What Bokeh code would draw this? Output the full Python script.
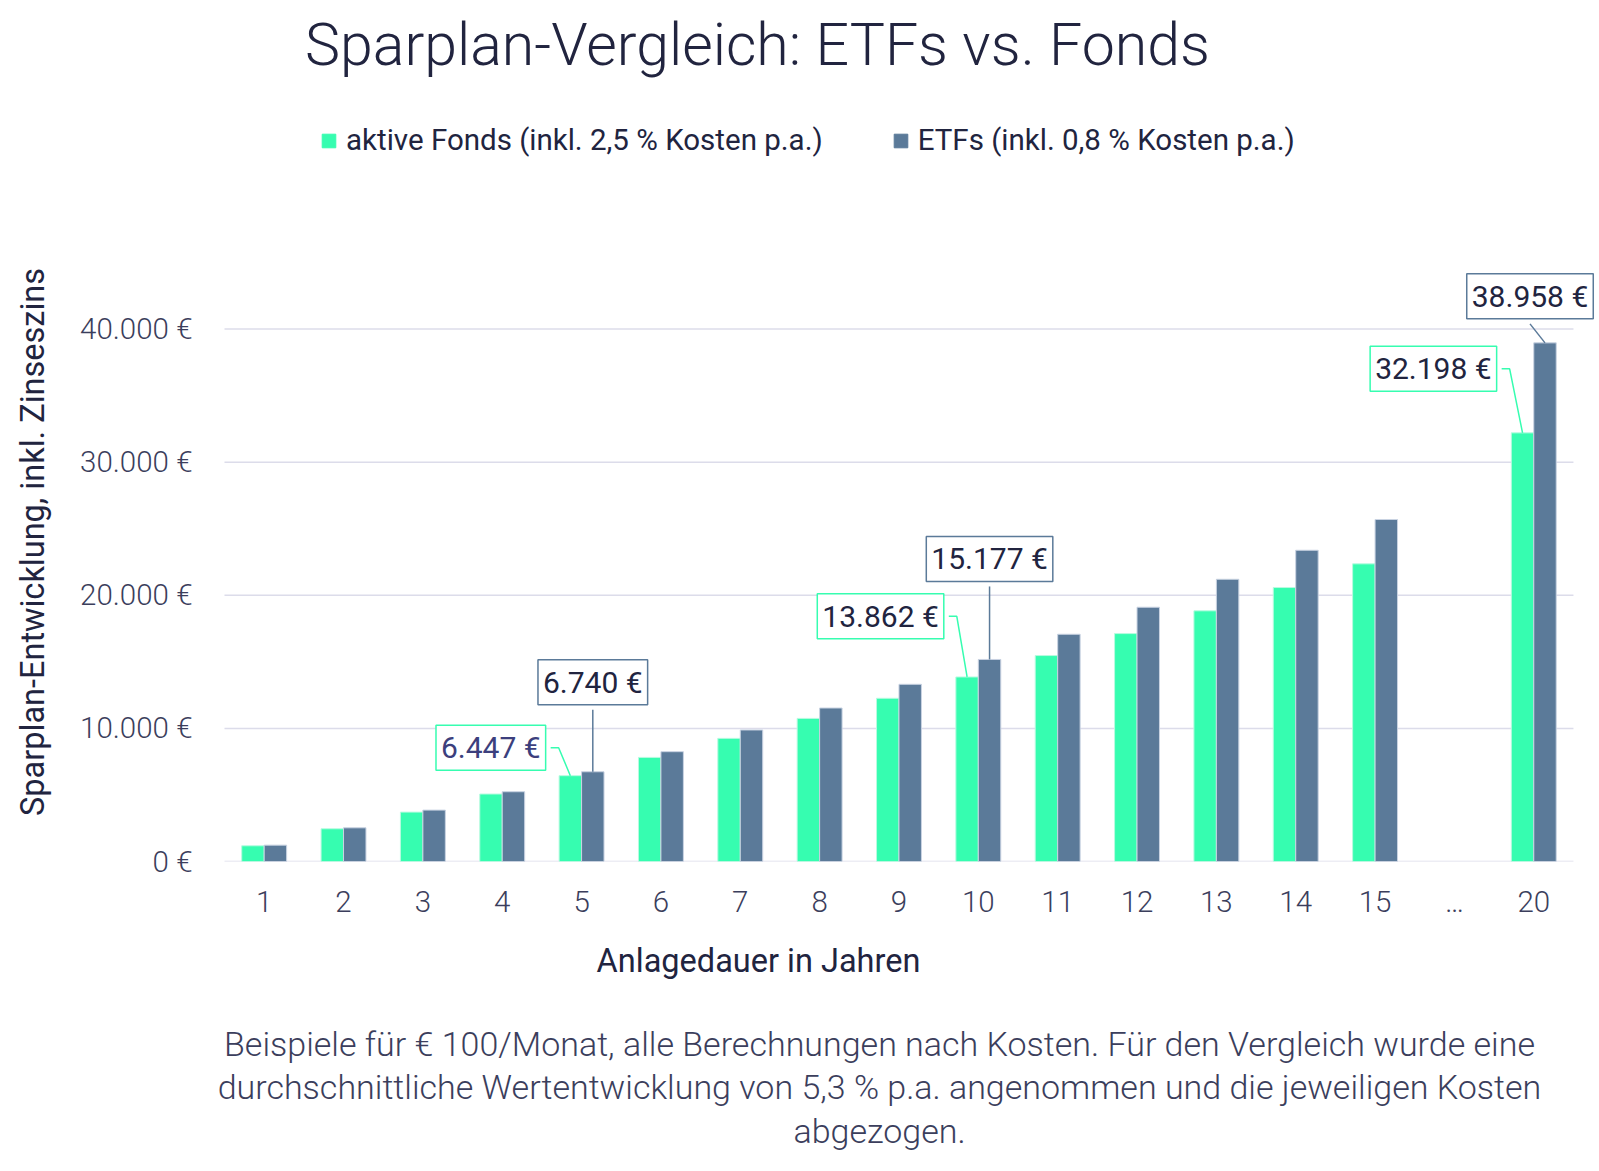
from bokeh.plotting import figure
from bokeh.layouts import column
from bokeh.models import ColumnDataSource, Range1d, FixedTicker, Label, Legend, LegendItem
from bokeh.transform import dodge
from bokeh.embed import file_html
from bokeh.resources import INLINE

# data
slots = list(range(1, 18))
year_labels = ["1", "2", "3", "4", "5", "6", "7", "8", "9", "10",
               "11", "12", "13", "14", "15", "…", "20"]
nan = float("nan")
fonds_values = [1180, 2460, 3710, 5070, 6447, 7820, 9250, 10750, 12260, 13862,
                15470, 17120, 18830, 20580, 22360, nan, 32198]
etf_values = [1230, 2530, 3860, 5240, 6740, 8250, 9880, 11530, 13310, 15177,
              17070, 19100, 21200, 23380, 25690, nan, 38958]
y_ticks = [0, 10000, 20000, 30000, 40000]

title_text = "Sparplan-Vergleich: ETFs vs. Fonds"
fonds_name = "aktive Fonds (inkl. 2,5 % Kosten p.a.)"
etf_name = "ETFs (inkl. 0,8 % Kosten p.a.)"
x_title = "Anlagedauer in Jahren"
y_title = "Sparplan-Entwicklung, inkl. Zinseszins"
note_lines = [
    "Beispiele für € 100/Monat, alle Berechnungen nach Kosten. Für den Vergleich wurde eine",
    "durchschnittliche Wertentwicklung von 5,3 % p.a. angenommen und die jeweiligen Kosten",
    "abgezogen.",
]
# bars that carry a value box (slot index)
fonds_callouts = [4, 9, 16]
etf_callouts = [4, 9, 16]

GREEN = "#36fdb0"
BLUE = "#5b7a99"
INK = "#21243f"
SOFT = "#3b3e5c"
LIGHT = "Roboto Light"
REG = "Roboto"


def euro(v):
    return f"{int(v):,}".replace(",", ".") + " €"


W, H = 1599, 1171
TOP_H = 222          # page y where the bar frame starts
FRAME_H = 639
MAIN_BOTTOM = 70
LEFT = 205           # frame edge (the first slot still starts at 224)
GRID_LEFT = 224
SLOT_PX = 79.35


def blank(height, y_top, y_bottom):
    # a figure without axes whose data space is the page's pixel grid
    f = figure(width=W, height=height, output_backend="svg", toolbar_location=None,
               title=None, x_range=Range1d(LEFT, W), y_range=Range1d(y_bottom, y_top),
               x_axis_type=None, y_axis_type=None, min_border=0, min_border_left=LEFT)
    f.grid.visible = False
    f.outline_line_color = None
    return f


# --- header: title + legend
head = blank(TOP_H, 0, TOP_H)
head.add_layout(Label(x=757, y=44, text=title_text, text_align="center",
                      text_baseline="middle", text_font=LIGHT, text_font_size="59px",
                      text_color=INK))
proxy = ColumnDataSource(dict(x=[nan], top=[nan]))
g1 = head.vbar(x="x", top="top", width=1, source=proxy, fill_color=GREEN, line_color=GREEN)
g2 = head.vbar(x="x", top="top", width=1, source=proxy, fill_color=BLUE, line_color=BLUE)
legend = Legend(items=[LegendItem(label=fonds_name, renderers=[g1]),
                       LegendItem(label=etf_name, renderers=[g2])],
                orientation="horizontal", location=(320 - LEFT, 65),
                border_line_color=None, background_fill_alpha=0, padding=0, margin=0,
                glyph_width=17, glyph_height=17, label_height=17, label_standoff=9,
                spacing=69, label_text_font=REG, label_text_font_size="29.5px",
                label_text_color=INK)
head.add_layout(legend)

# --- main bar chart
x_start = 0.5 - (GRID_LEFT - LEFT) / SLOT_PX
x_end = 0.5 + (W - GRID_LEFT) / SLOT_PX
p = figure(width=W, height=FRAME_H + MAIN_BOTTOM, output_backend="svg",
           toolbar_location=None, title=None,
           x_range=Range1d(x_start, x_end), y_range=Range1d(0, 48000),
           min_border_left=LEFT, min_border_right=0, min_border_top=0,
           min_border_bottom=MAIN_BOTTOM)
p.outline_line_color = None
p.grid.visible = False

px_x = 1 / SLOT_PX
px_y = 48000 / FRAME_H

# horizontal grid lines, limited to the category span
p.segment(x0=0.5, x1=len(slots) + 0.5, y0=y_ticks, y1=y_ticks,
          line_color="#dcdcea", line_width=1.5)

bar_w = 0.283
src = ColumnDataSource(dict(slot=slots, fonds=fonds_values, etf=etf_values))
p.vbar(x=dodge("slot", -bar_w / 2, range=p.x_range), top="fonds", width=bar_w,
       source=src, fill_color=GREEN, line_color="#b8fbe0", line_width=1)
p.vbar(x=dodge("slot", bar_w / 2, range=p.x_range), top="etf", width=bar_w,
       source=src, fill_color=BLUE, line_color="#c9d3e2", line_width=1)

p.xaxis.ticker = FixedTicker(ticks=slots)
p.xaxis.major_label_overrides = {s: t for s, t in zip(slots, year_labels)}
p.yaxis.ticker = FixedTicker(ticks=y_ticks)
p.yaxis.major_label_overrides = {t: euro(t) for t in y_ticks}
for ax in (p.xaxis[0], p.yaxis[0]):
    ax.axis_line_color = None
    ax.major_tick_line_color = None
    ax.minor_tick_line_color = None
    ax.major_tick_out = 0
    ax.minor_tick_out = 0
    ax.major_label_text_font = LIGHT
    ax.major_label_text_font_size = "29.5px"
    ax.major_label_text_color = SOFT
    ax.axis_label_text_font = REG
    ax.axis_label_text_font_size = "32.5px"
    ax.axis_label_text_font_style = "normal"
    ax.axis_label_text_color = INK
p.yaxis.axis_label = y_title
p.xaxis.major_label_standoff = 23
p.yaxis.major_label_standoff = 13
p.yaxis.axis_label_standoff = 25

# value boxes
PAD = 5
box_style = dict(text_font=REG, text_font_size="30px", background_fill_color="white",
                 border_line_width=1.5, padding=PAD)

# green: leader goes up-left to an elbow, then left into the box
green_leaders = {4: (-11.7, 28), 9: (-10.3, 60.6), 16: (-12.9, 64)}
for i in fonds_callouts:
    bx = slots[i] - bar_w / 2
    by = fonds_values[i]
    ex, ey = green_leaders[i]
    elbow_x = bx + ex * px_x
    elbow_y = by + ey * px_y
    end_x = elbow_x - 8 * px_x
    p.line([bx, elbow_x, end_x], [by, elbow_y, elbow_y], line_color=GREEN, line_width=1.5)
    color = "#3c3f7d" if i == 4 else INK
    p.add_layout(Label(x=end_x - PAD * px_x, y=elbow_y, text=euro(by), text_align="right",
                       text_baseline="middle", text_color=color, border_line_color=GREEN,
                       **box_style))

# blue: leader goes up (or up-left) to the bottom of the box
blue_leaders = {4: (0, 62), 9: (0, 73), 16: (-15, 19)}
for i in etf_callouts:
    bx = slots[i] + bar_w / 2
    by = etf_values[i]
    dx, dy = blue_leaders[i]
    end_x = bx + dx * px_x
    end_y = by + dy * px_y
    p.line([bx, end_x], [by, end_y], line_color=BLUE, line_width=1.5)
    p.add_layout(Label(x=end_x, y=end_y + PAD * px_y, text=euro(by), text_align="center",
                       text_baseline="bottom", text_color=INK, border_line_color=BLUE,
                       **box_style))

# --- x axis title and footnote
foot_top = TOP_H + FRAME_H + MAIN_BOTTOM
foot = blank(H - foot_top, foot_top, H)
foot.add_layout(Label(x=758, y=960, text=x_title, text_align="center",
                      text_baseline="middle", text_font=REG, text_font_size="32.5px",
                      text_color=INK))
for k, line in enumerate(note_lines):
    foot.add_layout(Label(x=879, y=1043 + 43.5 * k, text=line, text_align="center",
                          text_baseline="middle", text_font=LIGHT, text_font_size="34px",
                          text_color=SOFT))

page = column(head, p, foot, spacing=0)
open("out.html", "w").write(file_html(page, INLINE))
